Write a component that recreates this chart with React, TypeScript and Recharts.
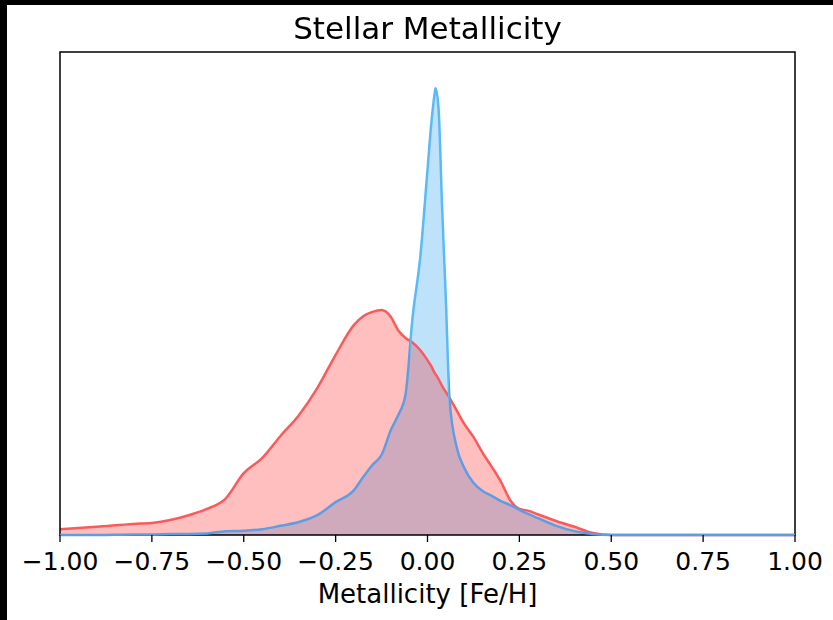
// Stellar metallicity KDE: two overlapping density curves.
import {
  ComposedChart,
  Area,
  Line,
  XAxis,
  YAxis,
  ReferenceArea,
} from "recharts";

const feH = [
  -1.0, -0.9, -0.8, -0.75, -0.7, -0.65, -0.6, -0.55, -0.5, -0.45, -0.4, -0.35,
  -0.3, -0.25, -0.2, -0.175, -0.15, -0.125, -0.1, -0.08, -0.06, -0.04, -0.02,
  0, 0.01, 0.02, 0.022, 0.03, 0.04, 0.05, 0.06, 0.08, 0.1, 0.125, 0.15, 0.175,
  0.2, 0.225, 0.25, 0.275, 0.3, 0.35, 0.4, 0.45, 0.5, 0.6, 0.75, 1.0,
];

const sampleDensity = [
  0.12, 0.17, 0.23, 0.25, 0.31, 0.41, 0.54, 0.75, 1.28, 1.59, 2.05, 2.48,
  3.04, 3.73, 4.35, 4.53, 4.62, 4.66, 4.52, 4.24, 4.08, 3.98, 3.83, 3.62, 3.5,
  3.35, 3.33, 3.23, 3.08, 2.96, 2.84, 2.57, 2.3, 2.03, 1.7, 1.41, 1.1, 0.72,
  0.54, 0.5, 0.43, 0.29, 0.17, 0.04, 0, 0, 0, 0,
];

const solarDensity = [
  0, 0, 0.01, 0.01, 0.02, 0.02, 0.03, 0.08, 0.09, 0.12, 0.19, 0.27, 0.41,
  0.68, 0.93, 1.2, 1.45, 1.66, 2.17, 2.48, 2.9, 4.55, 5.73, 7.56, 8.49, 9.17,
  9.25, 8.84, 6.73, 4.87, 2.8, 1.8, 1.39, 1.08, 0.91, 0.81, 0.7, 0.62, 0.52,
  0.43, 0.35, 0.19, 0.08, 0.02, 0, 0, 0, 0,
];

const xTicks = [-1, -0.75, -0.5, -0.25, 0, 0.25, 0.5, 0.75, 1];

const data = feH.map((x, i) => ({
  x,
  red: sampleDensity[i],
  blue: solarDensity[i],
}));

// where the blue curve rises above the red fill (line is drawn lighter there)
function crossing(i: number) {
  const d0 = solarDensity[i - 1] - sampleDensity[i - 1];
  const d1 = solarDensity[i] - sampleDensity[i];
  const t = d0 / (d0 - d1);
  return feH[i - 1] + t * (feH[i] - feH[i - 1]);
}
const above = solarDensity.map((b, i) => b > sampleDensity[i]);
const first = above.indexOf(true);
const last = above.lastIndexOf(true);
const xMin = feH[0];
const xMax = feH[feH.length - 1];
const offLeft = (crossing(first) - xMin) / (xMax - xMin);
const offRight = (crossing(last + 1) - xMin) / (xMax - xMin);

const fmt = (v: number) => (v < 0 ? "\u2212" : "") + Math.abs(v).toFixed(2);

const FONT = "'DejaVu Sans', sans-serif";

export default function App() {
  return (
    <div
      style={{
        position: "fixed",
        left: 0,
        top: 0,
        width: 833,
        height: 620,
        background: "#000",
      }}
    >
      <div
        style={{
          position: "absolute",
          left: 7,
          top: 5,
          width: 826,
          height: 615,
          background: "#fff",
        }}
      >
        <ComposedChart
          width={826}
          height={615}
          data={data}
          margin={{ top: 47, right: 38, bottom: 0, left: 53 }}
        >
          <defs>
            <linearGradient id="blueStroke" x1="0" y1="0" x2="1" y2="0">
              <stop offset={0} stopColor="#5f9de2" />
              <stop offset={offLeft} stopColor="#5f9de2" />
              <stop offset={offLeft} stopColor="#5ab9f7" />
              <stop offset={offRight} stopColor="#5ab9f7" />
              <stop offset={offRight} stopColor="#5f9de2" />
              <stop offset={1} stopColor="#5f9de2" />
            </linearGradient>
          </defs>
          <XAxis
            dataKey="x"
            type="number"
            domain={[-1, 1]}
            ticks={xTicks}
            tickFormatter={fmt}
            axisLine={false}
            tickLine={{ stroke: "#000", strokeWidth: 1.3 }}
            tickSize={7}
            tickMargin={10}
            height={85}
            tick={{ fontSize: 25, fill: "#000", fontFamily: FONT }}
            label={{
              value: "Metallicity [Fe/H]",
              position: "insideBottom",
              offset: 17,
              style: { fontSize: 26, fill: "#000", fontFamily: FONT },
            }}
          />
          <YAxis hide domain={[0, 10]} />
          <Area
            type="monotone"
            dataKey="blue"
            stroke="none"
            fill="#bfe2fb"
            fillOpacity={1}
            isAnimationActive={false}
          />
          <Area
            type="monotone"
            dataKey="red"
            stroke="#fb5a5a"
            strokeWidth={2.5}
            fill="#ff0000"
            fillOpacity={0.25}
            isAnimationActive={false}
          />
          <Line
            type="monotone"
            dataKey="blue"
            stroke="url(#blueStroke)"
            strokeWidth={2.5}
            dot={false}
            activeDot={false}
            isAnimationActive={false}
          />
          <ReferenceArea
            x1={-1}
            x2={1}
            y1={0}
            y2={10}
            fill="none"
            stroke="#000"
            strokeWidth={1.5}
          />
        </ComposedChart>
      </div>
      <div
        style={{
          position: "absolute",
          left: 0,
          top: 13,
          width: 855,
          textAlign: "center",
          fontFamily: FONT,
          fontSize: 31,
          lineHeight: "31px",
          color: "#000",
        }}
      >
        Stellar Metallicity
      </div>
    </div>
  );
}
